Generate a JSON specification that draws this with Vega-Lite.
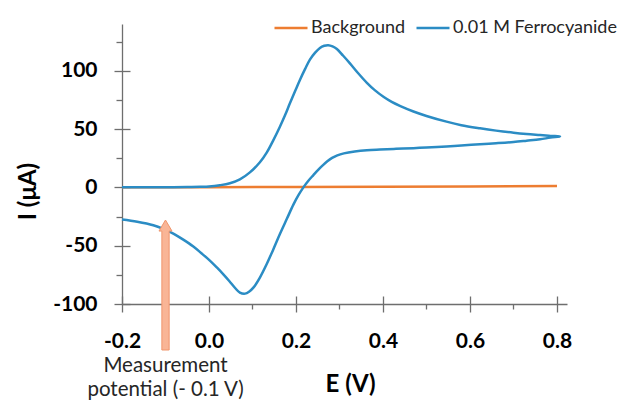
{
  "$schema": "https://vega.github.io/schema/vega-lite/v6.json",
  "width": 445,
  "height": 280,
  "autosize": {"type": "none"},
  "padding": {"left": 122, "top": 24, "right": 52, "bottom": 98},
  "background": "white",
  "config": {"view": {"stroke": null}, "font": "Lato"},
  "datasets": {
    "bg": [
      {"series": "Background", "idx": 0, "E": -0.2, "I": 0},
      {"series": "Background", "idx": 1, "E": 0.0, "I": 0.1},
      {"series": "Background", "idx": 2, "E": 0.2, "I": 0.3},
      {"series": "Background", "idx": 3, "E": 0.4, "I": 0.5},
      {"series": "Background", "idx": 4, "E": 0.6, "I": 0.8},
      {"series": "Background", "idx": 5, "E": 0.8, "I": 1.2}
    ],
    "fc": [
      {"series": "0.01 M Ferrocyanide", "idx": 0, "E": -0.2, "I": 0},
      {"series": "0.01 M Ferrocyanide", "idx": 1, "E": -0.15, "I": 0},
      {"series": "0.01 M Ferrocyanide", "idx": 2, "E": -0.1, "I": 0.05},
      {"series": "0.01 M Ferrocyanide", "idx": 3, "E": -0.05, "I": 0.2},
      {"series": "0.01 M Ferrocyanide", "idx": 4, "E": -0.02, "I": 0.4},
      {"series": "0.01 M Ferrocyanide", "idx": 5, "E": 0.0, "I": 0.7},
      {"series": "0.01 M Ferrocyanide", "idx": 6, "E": 0.025, "I": 1.8},
      {"series": "0.01 M Ferrocyanide", "idx": 7, "E": 0.048, "I": 3.5},
      {"series": "0.01 M Ferrocyanide", "idx": 8, "E": 0.071, "I": 6.8},
      {"series": "0.01 M Ferrocyanide", "idx": 9, "E": 0.094, "I": 12.8},
      {"series": "0.01 M Ferrocyanide", "idx": 10, "E": 0.117, "I": 21.5},
      {"series": "0.01 M Ferrocyanide", "idx": 11, "E": 0.133, "I": 30.0},
      {"series": "0.01 M Ferrocyanide", "idx": 12, "E": 0.148, "I": 40.5},
      {"series": "0.01 M Ferrocyanide", "idx": 13, "E": 0.163, "I": 52},
      {"series": "0.01 M Ferrocyanide", "idx": 14, "E": 0.175, "I": 62},
      {"series": "0.01 M Ferrocyanide", "idx": 15, "E": 0.186, "I": 72},
      {"series": "0.01 M Ferrocyanide", "idx": 16, "E": 0.198, "I": 82.5},
      {"series": "0.01 M Ferrocyanide", "idx": 17, "E": 0.209, "I": 92},
      {"series": "0.01 M Ferrocyanide", "idx": 18, "E": 0.221, "I": 101.5},
      {"series": "0.01 M Ferrocyanide", "idx": 19, "E": 0.232, "I": 109.5},
      {"series": "0.01 M Ferrocyanide", "idx": 20, "E": 0.244, "I": 115.5},
      {"series": "0.01 M Ferrocyanide", "idx": 21, "E": 0.255, "I": 119.5},
      {"series": "0.01 M Ferrocyanide", "idx": 22, "E": 0.265, "I": 121.3},
      {"series": "0.01 M Ferrocyanide", "idx": 23, "E": 0.274, "I": 121.8},
      {"series": "0.01 M Ferrocyanide", "idx": 24, "E": 0.284, "I": 120.8},
      {"series": "0.01 M Ferrocyanide", "idx": 25, "E": 0.294, "I": 118.5},
      {"series": "0.01 M Ferrocyanide", "idx": 26, "E": 0.308, "I": 113},
      {"series": "0.01 M Ferrocyanide", "idx": 27, "E": 0.324, "I": 106.3},
      {"series": "0.01 M Ferrocyanide", "idx": 28, "E": 0.343, "I": 97.8},
      {"series": "0.01 M Ferrocyanide", "idx": 29, "E": 0.363, "I": 89.6},
      {"series": "0.01 M Ferrocyanide", "idx": 30, "E": 0.381, "I": 83.3},
      {"series": "0.01 M Ferrocyanide", "idx": 31, "E": 0.401, "I": 77.6},
      {"series": "0.01 M Ferrocyanide", "idx": 32, "E": 0.42, "I": 73.2},
      {"series": "0.01 M Ferrocyanide", "idx": 33, "E": 0.44, "I": 69.6},
      {"series": "0.01 M Ferrocyanide", "idx": 34, "E": 0.47, "I": 65},
      {"series": "0.01 M Ferrocyanide", "idx": 35, "E": 0.5, "I": 61.2},
      {"series": "0.01 M Ferrocyanide", "idx": 36, "E": 0.546, "I": 56.3},
      {"series": "0.01 M Ferrocyanide", "idx": 37, "E": 0.58, "I": 53.3},
      {"series": "0.01 M Ferrocyanide", "idx": 38, "E": 0.623, "I": 50.6},
      {"series": "0.01 M Ferrocyanide", "idx": 39, "E": 0.66, "I": 48.6},
      {"series": "0.01 M Ferrocyanide", "idx": 40, "E": 0.7, "I": 46.8},
      {"series": "0.01 M Ferrocyanide", "idx": 41, "E": 0.73, "I": 45.7},
      {"series": "0.01 M Ferrocyanide", "idx": 42, "E": 0.761, "I": 44.8},
      {"series": "0.01 M Ferrocyanide", "idx": 43, "E": 0.785, "I": 44.1},
      {"series": "0.01 M Ferrocyanide", "idx": 44, "E": 0.807, "I": 43.6},
      {"series": "0.01 M Ferrocyanide", "idx": 45, "E": 0.785, "I": 42.6},
      {"series": "0.01 M Ferrocyanide", "idx": 46, "E": 0.761, "I": 41.2},
      {"series": "0.01 M Ferrocyanide", "idx": 47, "E": 0.73, "I": 40.0},
      {"series": "0.01 M Ferrocyanide", "idx": 48, "E": 0.7, "I": 38.9},
      {"series": "0.01 M Ferrocyanide", "idx": 49, "E": 0.66, "I": 37.8},
      {"series": "0.01 M Ferrocyanide", "idx": 50, "E": 0.623, "I": 36.9},
      {"series": "0.01 M Ferrocyanide", "idx": 51, "E": 0.58, "I": 35.9},
      {"series": "0.01 M Ferrocyanide", "idx": 52, "E": 0.546, "I": 35.1},
      {"series": "0.01 M Ferrocyanide", "idx": 53, "E": 0.5, "I": 34.2},
      {"series": "0.01 M Ferrocyanide", "idx": 54, "E": 0.47, "I": 33.6},
      {"series": "0.01 M Ferrocyanide", "idx": 55, "E": 0.43, "I": 33.0},
      {"series": "0.01 M Ferrocyanide", "idx": 56, "E": 0.393, "I": 32.4},
      {"series": "0.01 M Ferrocyanide", "idx": 57, "E": 0.363, "I": 31.8},
      {"series": "0.01 M Ferrocyanide", "idx": 58, "E": 0.335, "I": 30.7},
      {"series": "0.01 M Ferrocyanide", "idx": 59, "E": 0.31, "I": 29.1},
      {"series": "0.01 M Ferrocyanide", "idx": 60, "E": 0.295, "I": 27.4},
      {"series": "0.01 M Ferrocyanide", "idx": 61, "E": 0.283, "I": 25.2},
      {"series": "0.01 M Ferrocyanide", "idx": 62, "E": 0.272, "I": 22.3},
      {"series": "0.01 M Ferrocyanide", "idx": 63, "E": 0.262, "I": 19.0},
      {"series": "0.01 M Ferrocyanide", "idx": 64, "E": 0.251, "I": 15.0},
      {"series": "0.01 M Ferrocyanide", "idx": 65, "E": 0.24, "I": 10.5},
      {"series": "0.01 M Ferrocyanide", "idx": 66, "E": 0.228, "I": 5.5},
      {"series": "0.01 M Ferrocyanide", "idx": 67, "E": 0.217, "I": 0},
      {"series": "0.01 M Ferrocyanide", "idx": 68, "E": 0.206, "I": -6.5},
      {"series": "0.01 M Ferrocyanide", "idx": 69, "E": 0.194, "I": -14.8},
      {"series": "0.01 M Ferrocyanide", "idx": 70, "E": 0.179, "I": -27},
      {"series": "0.01 M Ferrocyanide", "idx": 71, "E": 0.163, "I": -40},
      {"series": "0.01 M Ferrocyanide", "idx": 72, "E": 0.148, "I": -53},
      {"series": "0.01 M Ferrocyanide", "idx": 73, "E": 0.133, "I": -65.5},
      {"series": "0.01 M Ferrocyanide", "idx": 74, "E": 0.117, "I": -77.3},
      {"series": "0.01 M Ferrocyanide", "idx": 75, "E": 0.102, "I": -86},
      {"series": "0.01 M Ferrocyanide", "idx": 76, "E": 0.092, "I": -89.5},
      {"series": "0.01 M Ferrocyanide", "idx": 77, "E": 0.083, "I": -91.1},
      {"series": "0.01 M Ferrocyanide", "idx": 78, "E": 0.071, "I": -90.2},
      {"series": "0.01 M Ferrocyanide", "idx": 79, "E": 0.06, "I": -86.3},
      {"series": "0.01 M Ferrocyanide", "idx": 80, "E": 0.047, "I": -80.5},
      {"series": "0.01 M Ferrocyanide", "idx": 81, "E": 0.033, "I": -74.6},
      {"series": "0.01 M Ferrocyanide", "idx": 82, "E": 0.018, "I": -68.7},
      {"series": "0.01 M Ferrocyanide", "idx": 83, "E": 0.002, "I": -62.8},
      {"series": "0.01 M Ferrocyanide", "idx": 84, "E": -0.018, "I": -56.3},
      {"series": "0.01 M Ferrocyanide", "idx": 85, "E": -0.036, "I": -50.7},
      {"series": "0.01 M Ferrocyanide", "idx": 86, "E": -0.06, "I": -44.6},
      {"series": "0.01 M Ferrocyanide", "idx": 87, "E": -0.082, "I": -39.6},
      {"series": "0.01 M Ferrocyanide", "idx": 88, "E": -0.105, "I": -35.6},
      {"series": "0.01 M Ferrocyanide", "idx": 89, "E": -0.128, "I": -32.5},
      {"series": "0.01 M Ferrocyanide", "idx": 90, "E": -0.165, "I": -29.5},
      {"series": "0.01 M Ferrocyanide", "idx": 91, "E": -0.2, "I": -27.6}
    ],
    "note": [
      {"E": -0.1, "I": -28, "text": "Measurement\npotential (- 0.1 V)", "Itext": -158}
    ]
  },
  "resolve": {"axis": {"x": "independent", "y": "independent"}},
  "layer": [
    {
      "data": {"name": "bg"},
      "mark": {"type": "line", "strokeWidth": 2.5},
      "encoding": {
        "x": {
          "field": "E", "type": "quantitative",
          "scale": {"domain": [-0.2, 0.823], "nice": false, "zero": false},
          "axis": {"orient": "bottom", "values": [-0.2, 0, 0.2, 0.4, 0.6, 0.8], "tickSize": -8, "tickColor": "#6e6e6e", "tickWidth": 1.3, "labels": false, "domain": false, "grid": false, "title": null}
        },
        "y": {
          "field": "I", "type": "quantitative",
          "scale": {"domain": [-100, 140], "nice": false, "zero": false},
          "axis": {"orient": "left", "values": [-100, -50, 0, 50, 100], "tickSize": -8, "tickColor": "#6e6e6e", "tickWidth": 1.3, "labels": false, "domain": false, "grid": false, "title": null}
        },
        "order": {"field": "idx"},
        "color": {
          "field": "series", "type": "nominal",
          "scale": {"domain": ["Background", "0.01 M Ferrocyanide"], "range": ["#ED7D31", "#2B8CC4"]},
          "legend": {"orient": "none", "legendX": 151, "legendY": -14, "direction": "horizontal", "title": null, "labelFont": "Lato", "labelFontSize": 18, "labelLimit": 400, "labelColor": "#262626", "symbolType": "stroke", "symbolSize": 1089, "symbolStrokeWidth": 2.5, "labelOffset": 2, "columnPadding": 5, "padding": 0}
        }
      }
    },
    {
      "data": {"name": "fc"},
      "mark": {"type": "line", "strokeWidth": 2.5, "interpolate": "catmull-rom"},
      "encoding": {
        "x": {
          "field": "E", "type": "quantitative",
          "axis": {
            "orient": "bottom",
            "values": [-0.2, -0.1, 0, 0.1, 0.2, 0.3, 0.4, 0.5, 0.6, 0.7, 0.8],
            "tickSize": {"condition": {"test": "round(datum.value*10) % 2 === 0", "value": 8}, "value": 5},
            "labelExpr": "round(datum.value*10) % 2 === 0 ? (datum.value === 0 ? '0.0' : '' + datum.value) : ''",
            "tickColor": "#6e6e6e", "tickWidth": 1.3, "domainColor": "#6e6e6e", "domainWidth": 1.3,
            "labelFont": "Lato", "labelFontSize": 21, "labelFontWeight": "bold", "labelColor": "#000000",
            "labelPadding": 18, "labelFlush": false, "labelOverlap": false, "labelBound": false, "grid": false,
            "title": "E (V)", "titleFont": "Lato", "titleFontSize": 24, "titleFontWeight": "bold", "titleColor": "#000000",
            "titleX": 228, "titleY": 87, "titleBaseline": "alphabetic", "titleAlign": "center"
          }
        },
        "y": {
          "field": "I", "type": "quantitative",
          "axis": {
            "orient": "left",
            "values": [-100, -75, -50, -25, 0, 25, 50, 75, 100, 125],
            "tickSize": {"condition": {"test": "datum.value % 50 === 0", "value": 8}, "value": 6},
            "labelExpr": "datum.value % 50 === 0 ? '' + datum.value : ''",
            "tickColor": "#6e6e6e", "tickWidth": 1.3, "domainColor": "#6e6e6e", "domainWidth": 1.3,
            "labelFont": "Lato", "labelFontSize": 21, "labelFontWeight": "bold", "labelColor": "#000000",
            "labelPadding": 17, "labelFlush": false, "labelOverlap": false, "labelBound": false, "grid": false,
            "title": "I (μA)", "titleFont": "Lato", "titleFontSize": 24, "titleFontWeight": "bold", "titleColor": "#000000",
            "titleX": -94, "titleY": 167, "titleAngle": -90, "titleBaseline": "middle", "titleAlign": "center"
          }
        },
        "order": {"field": "idx"},
        "color": {
          "field": "series", "type": "nominal",
          "legend": {"orient": "none", "legendX": 151, "legendY": -14, "direction": "horizontal", "title": null, "labelFont": "Lato", "labelFontSize": 18, "labelLimit": 400, "labelColor": "#262626", "symbolType": "stroke", "symbolSize": 1089, "symbolStrokeWidth": 2.5, "labelOffset": 2, "columnPadding": 5, "padding": 0}
        }
      }
    },
    {
      "data": {"name": "note"},
      "mark": {
        "type": "point",
        "shape": "M0,0L0.1,0.17L0.056,0.17L0.056,2L-0.056,2L-0.056,0.17L-0.1,0.17Z",
        "size": 16900, "filled": true, "fill": "#F9B596", "stroke": "#F0956C", "strokeWidth": 1, "opacity": 1
      },
      "encoding": {
        "x": {"field": "E", "type": "quantitative", "axis": null},
        "y": {"field": "I", "type": "quantitative", "axis": null}
      }
    },
    {
      "data": {"name": "note"},
      "mark": {"type": "text", "font": "Lato", "fontSize": 20.5, "color": "#262626", "lineBreak": "\n", "lineHeight": 24, "align": "center", "baseline": "alphabetic"},
      "encoding": {
        "x": {"field": "E", "type": "quantitative", "axis": null},
        "y": {"field": "Itext", "type": "quantitative", "axis": null},
        "text": {"field": "text"}
      }
    }
  ]
}
